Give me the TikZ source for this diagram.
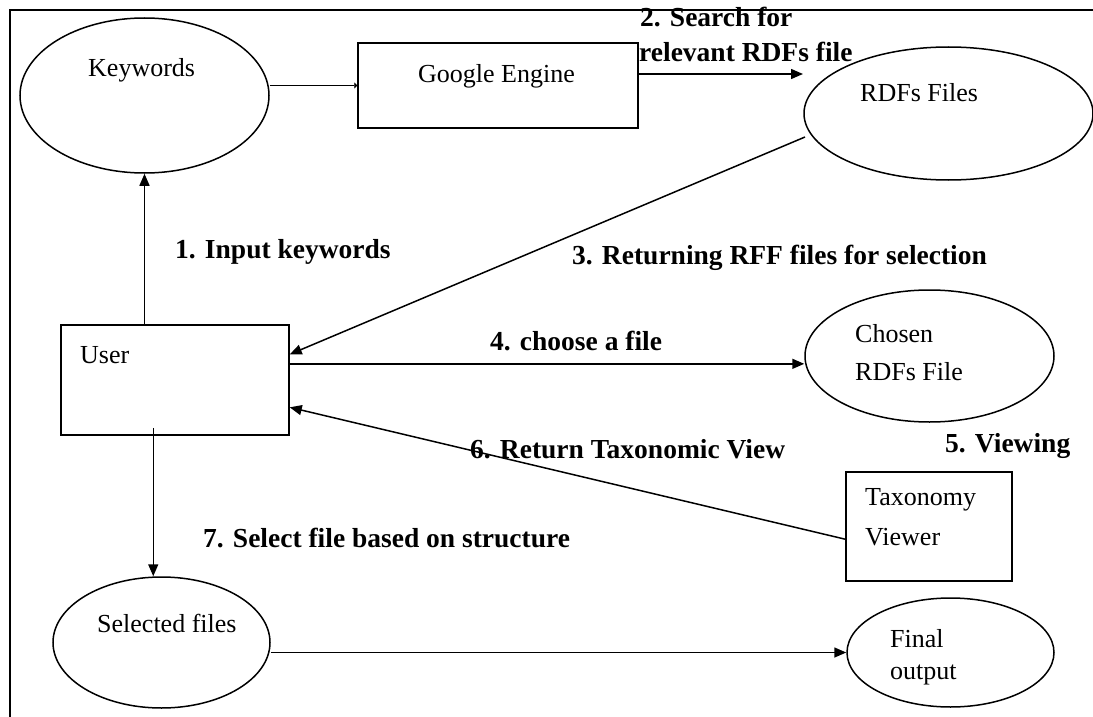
\documentclass[tikz,border=0pt]{standalone}
\usepackage{fontspec}
\setmainfont{Liberation Serif}
\usetikzlibrary{shapes.geometric,arrows.meta,calc}

\tikzset{
  stroke/.style={line width=1.5pt, draw=black},
  ellbox/.style={stroke, ellipse, inner sep=0pt},
  rectbox/.style={stroke, rectangle, inner sep=0pt},
  nodetext/.style={anchor=base west, inner sep=0pt, font=\fontsize{26}{30}\selectfont},
  steplabel/.style={anchor=base west, inner sep=0pt, font=\fontsize{27.5}{32}\selectfont\bfseries},
  arr/.style={stroke, -{Triangle[length=12pt,width=10pt]}},
  tinyarr/.style={stroke, -{Triangle[length=3pt,width=6pt]}}
}

\begin{document}
\begin{tikzpicture}[x=1pt,y=-1pt]
  \useasboundingbox (0,0) rectangle (1093,717);

  % outer frame (top and left edges)
  \draw[stroke] (10,717) -- (10,10) -- (1093,10);

  % shapes
  \node[ellbox, minimum width=249pt, minimum height=155pt] (kw) at (144.5,95.5) {};
  \node[rectbox, minimum width=280pt, minimum height=85pt] (google) at (498,85.5) {};
  \node[ellbox, minimum width=289pt, minimum height=133pt] (rdf) at (948.5,113.5) {};
  \node[rectbox, minimum width=228pt, minimum height=110pt] (user) at (175,380) {};
  \node[ellbox, minimum width=249pt, minimum height=132pt] (chosen) at (929.5,356) {};
  \node[rectbox, minimum width=166pt, minimum height=109pt] (tax) at (929,526.5) {};
  \node[ellbox, minimum width=217pt, minimum height=131pt] (sel) at (161.5,642.5) {};
  \node[ellbox, minimum width=207pt, minimum height=109pt] (final) at (950.5,652.5) {};

  % texts inside the shapes
  \node[nodetext] (kwt) at (88,77) {Keywords};
  \node[nodetext] (googlet) at (418,83) {Google Engine};
  \node[nodetext] (rdft) at (860,102) {RDFs Files};
  \node[nodetext] (usert) at (80,363) {User};
  \node[nodetext] (chosent1) at (855,342) {Chosen};
  \node[nodetext] (chosent2) at (855,380) {RDFs File};
  \node[nodetext] (taxt1) at (865,505) {Taxonomy};
  \node[nodetext] (taxt2) at (865,545) {Viewer};
  \node[nodetext] (selt) at (97,632) {Selected files};
  \node[nodetext] (finalt1) at (890,647) {Final};
  \node[nodetext] (finalt2) at (890,679) {output};

  % step labels
  \node[steplabel] (s1) at (175,258) {1. Input keywords};
  \node[steplabel] (s2a) at (640,27) {2. Search for};
  \node[steplabel] (s2b) at (639,62) {relevant RDFs file};
  \node[steplabel] (s3) at (572,264) {3. Returning RFF files for selection};
  \node[steplabel] (s4) at (490,350) {4. choose a file};
  \node[steplabel] (s5) at (945,452) {5. Viewing};
  \node[steplabel] (s6) at (470,458) {6. Return Taxonomic View};
  \node[steplabel] (s7) at (203,547) {7. Select file based on structure};

  % connector end points
  \coordinate (rdfin) at (803,74);
  \coordinate (rdfout) at (805,137);
  \coordinate (userin3) at ($(user.north east)!0.27!(user.south east)$);
  \coordinate (userout4) at ($(user.north east)!0.355!(user.south east)$);
  \coordinate (userin6) at ($(user.north east)!0.745!(user.south east)$);
  \coordinate (taxout) at ($(tax.north west)!0.615!(tax.south west)$);
  \coordinate (userout7) at ($(user.south west)+(93,-8)$);

  % connectors
  \draw[arr] (user.north -| kw.south) -- (kw.south);
  \draw[tinyarr] (google.west -| kw.east) -- (google.west);
  \draw[arr] (google.east |- rdfin) -- (rdfin);
  \draw[arr] (rdfout) -- (userin3);
  \draw[arr] (userout4) -- (userout4 -| chosen.west);
  \draw[arr] (taxout) -- (userin6);
  \draw[arr] (userout7) -- (userout7 |- sel.north);
  \draw[arr] (final.west -| sel.east) -- (final.west);
\end{tikzpicture}
\end{document}
